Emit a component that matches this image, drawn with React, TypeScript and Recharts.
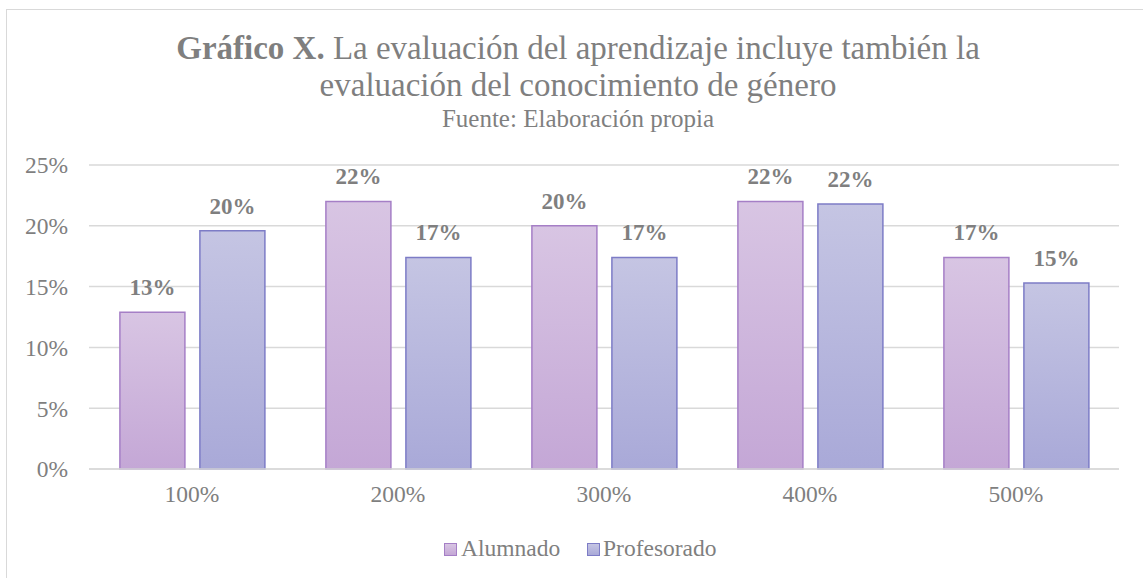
import React from "react";
import { BarChart, Bar, XAxis, YAxis, CartesianGrid, LabelList } from "recharts";

const categories = ["100%", "200%", "300%", "400%", "500%"];
const alumnado = [0.129, 0.22, 0.2, 0.22, 0.174];
const profesorado = [0.196, 0.174, 0.174, 0.218, 0.153];
const yTicks = [0, 0.05, 0.1, 0.15, 0.2, 0.25];

const data = categories.map((c, i) => ({ cat: c, alumnado: alumnado[i], profesorado: profesorado[i] }));

const FONT = '"Liberation Serif"';
const GRAY = "#7f7f7f";
const pct = (v: number) => `${Math.round(v * 100)}%`;

export default function App() {
  return (
    <div style={{ position: "fixed", left: 0, top: 0, width: 1143, height: 578, overflow: "hidden", background: "#fff", fontFamily: FONT }}>
      <div style={{ position: "absolute", left: 6, top: 9, width: 1200, height: 700, border: "1px solid #d9d9d9" }} />
      <div style={{ position: "absolute", left: 0, top: 30, width: 1156, textAlign: "center", fontSize: 33, lineHeight: "37px", color: GRAY }}>
        <div><b>Gráfico X.</b> La evaluación del aprendizaje incluye también la</div>
        <div>evaluación del conocimiento de género</div>
      </div>
      <div style={{ position: "absolute", left: 0, top: 105, width: 1156, textAlign: "center", fontSize: 25, lineHeight: "28px", color: GRAY }}>
        Fuente: Elaboración propia
      </div>
      <div style={{ position: "absolute", left: 0, top: 0 }}>
        <BarChart width={1143} height={578} data={data} margin={{ top: 165, right: 24, bottom: 69, left: 0 }} barCategoryGap="15%" barGap={15}>
          <defs>
            <linearGradient id="gA" x1="0" y1="0" x2="0" y2="1">
              <stop offset="0%" stopColor="#d8c5e3" />
              <stop offset="100%" stopColor="#c4a7d6" />
            </linearGradient>
            <linearGradient id="gP" x1="0" y1="0" x2="0" y2="1">
              <stop offset="0%" stopColor="#c5c5e3" />
              <stop offset="100%" stopColor="#a9a9d8" />
            </linearGradient>
          </defs>
          <CartesianGrid vertical={false} stroke="#d9d9d9" strokeWidth={1.5} />
          <XAxis dataKey="cat" axisLine={{ stroke: "#d9d9d9", strokeWidth: 1.5 }} tickLine={false} tickSize={0} tickMargin={16} height={40}
            tick={{ fill: GRAY, fontSize: 23.5, fontFamily: FONT }} />
          <YAxis domain={[0, 0.25]} ticks={yTicks} tickFormatter={pct} axisLine={false} tickLine={false} tickSize={0} tickMargin={21} width={89}
            tick={{ fill: GRAY, fontSize: 23.5, fontFamily: FONT }} />
          <Bar dataKey="alumnado" fill="url(#gA)" stroke="#a57fc6" strokeWidth={1.5} isAnimationActive={false}>
            <LabelList dataKey="alumnado" position="top" offset={17} formatter={(v: any) => pct(Number(v))}
              style={{ fill: GRAY, fontSize: 23, fontWeight: "bold", fontFamily: FONT }} />
          </Bar>
          <Bar dataKey="profesorado" fill="url(#gP)" stroke="#7d7cc6" strokeWidth={1.5} isAnimationActive={false}>
            <LabelList dataKey="profesorado" position="top" offset={17} formatter={(v: any) => pct(Number(v))}
              style={{ fill: GRAY, fontSize: 23, fontWeight: "bold", fontFamily: FONT }} />
          </Bar>
        </BarChart>
      </div>
      <div style={{ position: "absolute", left: 0, top: 535, width: 1143, fontSize: 23.5, lineHeight: "26px", color: GRAY }}>
        <div style={{ position: "absolute", left: 444, top: 8, width: 11, height: 11, background: "linear-gradient(#d8c5e3,#c4a7d6)", border: "1px solid #a57fc6" }} />
        <div style={{ position: "absolute", left: 461, top: 0, whiteSpace: "nowrap" }}>Alumnado</div>
        <div style={{ position: "absolute", left: 587, top: 8, width: 11, height: 11, background: "linear-gradient(#c5c5e3,#a9a9d8)", border: "1px solid #7d7cc6" }} />
        <div style={{ position: "absolute", left: 603, top: 0, whiteSpace: "nowrap" }}>Profesorado</div>
      </div>
    </div>
  );
}
